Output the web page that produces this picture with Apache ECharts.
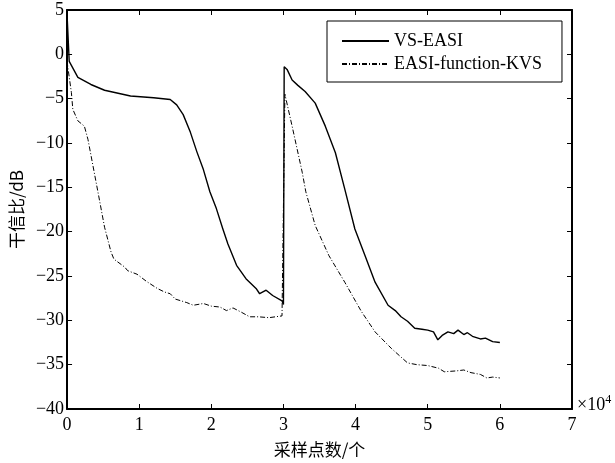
<!DOCTYPE html>
<html>
<head>
<meta charset="utf-8">
<script src="https://cdn.jsdelivr.net/npm/echarts@6/dist/echarts.min.js"></script>
<style>
html,body{margin:0;padding:0;background:#fff;}
#main{width:615px;height:463px;}
</style>
</head>
<body>
<div id="main"></div>
<script>
// 采样点数 与 干信比(dB)
var vsEasiX = [0, 300, 1500, 3300, 5200, 8800, 12000, 14300, 15200, 16100, 17100, 18000, 18900, 19800, 20700, 21600, 22300, 23500, 24800, 26200, 26700, 27600, 28500, 29800, 30000,
	30100, 30500, 31200, 32000, 33000, 34400, 35800, 37200, 38500, 39900, 41300, 42700, 44500, 45500, 46300, 47200, 48200, 49200, 50000, 50800, 51400, 52000, 52800, 53600, 54200, 55000, 55500, 56200, 57300, 58000, 59000, 60000];
var vsEasiY = [4.5, -0.8, -2.6, -3.4, -4.05, -4.7, -4.9, -5.1, -5.7, -6.8, -8.8, -11, -13, -15.5, -17.4, -19.7, -21.4, -23.8, -25.3, -26.4, -27, -26.6, -27.2, -27.8, -28.2,
	-1.4, -1.7, -2.9, -3.5, -4.2, -5.5, -8.1, -11.1, -15.2, -19.7, -22.7, -25.7, -28.3, -28.9, -29.6, -30.1, -30.9, -31.0, -31.1, -31.3, -32.2, -31.7, -31.3, -31.5, -31.1, -31.6, -31.4, -31.8, -32.1, -32.0, -32.4, -32.5];
var kvsX = [0, 100, 600, 800, 1500, 2400, 2900, 3600, 4300, 5200, 6100, 6500, 8000, 8400, 9700, 11000, 12500, 13500, 14300, 15000, 16600, 17500, 18900, 20000, 21200, 22100, 23000, 24200, 25300, 26500, 28000, 29800, 30000,
	30200, 31200, 32600, 33100, 34400, 36300, 38500, 40800, 42700, 45000, 47200, 48500, 50000, 51500, 52300, 54000, 55000, 56000, 57300, 58200, 59000, 60000];
var kvsY = [-0.8, -1.4, -4.3, -6.2, -7.5, -8.1, -9.6, -12.6, -15.6, -19.5, -22.3, -23.1, -24.0, -24.4, -24.8, -25.6, -26.4, -26.8, -27.0, -27.6, -28.0, -28.3, -28.1, -28.4, -28.5, -28.9, -28.6, -29.1, -29.6, -29.6, -29.7, -29.5, -29.5,
	-4.5, -8.1, -13.3, -15.5, -19.3, -22.7, -25.7, -29.0, -31.3, -33.2, -34.8, -35.0, -35.1, -35.4, -35.8, -35.7, -35.6, -35.9, -36.1, -36.5, -36.4, -36.5];
var seriesNames = ['VS-EASI', 'EASI-function-KVS'];

function zipXY(xs, ys) {
	var out = [];
	for (var i = 0; i < xs.length; i++) out.push([xs[i], ys[i]]);
	return out;
}
function minus(v) {
	return String(v).replace('-', '\u2212');
}

var serif = "'Liberation Serif','Times New Roman',serif";
var cjk = "'Noto Sans CJK SC','Liberation Serif',serif";
var axisLine = { show: true, onZero: false, lineStyle: { color: '#000', width: 2 } };
var axisTick = { show: true, inside: true, length: 5, lineStyle: { color: '#000', width: 1 } };

var myChart = echarts.init(document.getElementById('main'));
var option = {
	backgroundColor: '#fff',
	animation: false,
	grid: { left: 62, right: 43, top: 10, bottom: 52 },
	legend: {
		orient: 'vertical',
		left: 327,
		top: 21,
		backgroundColor: '#fff',
		borderColor: '#000',
		borderWidth: 1,
		borderRadius: 0,
		padding: [11, 20, 9, 14],
		itemWidth: 47,
		itemHeight: 10,
		itemGap: 5,
		itemStyle: { opacity: 0 },
		textStyle: { fontFamily: serif, fontSize: 18, color: '#000' },
		data: seriesNames
	},
	xAxis: [{
		type: 'value',
		min: 0, max: 70000, interval: 10000,
		position: 'bottom',
		axisLine: axisLine, axisTick: axisTick,
		splitLine: { show: false },
		axisLabel: { color: '#000', fontFamily: serif, fontSize: 18, margin: 7,
			formatter: function (v) { return String(v / 10000); } },
		name: '采样点数/个',
		nameLocation: 'middle',
		nameGap: 32,
		nameTextStyle: { fontFamily: cjk, fontSize: 17, color: '#000' }
	}, {
		type: 'value',
		min: 0, max: 70000, interval: 10000,
		position: 'top',
		axisLine: axisLine, axisTick: axisTick,
		splitLine: { show: false },
		axisLabel: { show: false }
	}],
	yAxis: [{
		type: 'value',
		min: -40, max: 5, interval: 5,
		position: 'left',
		axisLine: axisLine, axisTick: axisTick,
		splitLine: { show: false },
		axisLabel: { color: '#000', fontFamily: serif, fontSize: 18, margin: 3, formatter: minus },
		name: '干信比/dB',
		nameLocation: 'middle',
		nameGap: 42,
		nameTextStyle: { fontFamily: cjk, fontSize: 17, color: '#000' }
	}, {
		type: 'value',
		min: -40, max: 5, interval: 5,
		position: 'right',
		axisLine: axisLine, axisTick: axisTick,
		splitLine: { show: false },
		axisLabel: { show: false }
	}],
	graphic: [{
		type: 'text',
		left: 577,
		top: 394,
		style: {
			text: '×10{s|4}',
			fontFamily: serif,
			fontSize: 18,
			fill: '#000',
			rich: { s: { fontSize: 12, verticalAlign: 'top', padding: [0, 0, 10, 0], fontFamily: serif } }
		}
	}],
	series: [{
		name: seriesNames[0],
		type: 'line',
		showSymbol: false,
		symbol: 'none',
		data: zipXY(vsEasiX, vsEasiY),
		lineStyle: { color: '#000', width: 1.4, type: 'solid' },
		itemStyle: { color: '#000' }
	}, {
		name: seriesNames[1],
		type: 'line',
		showSymbol: false,
		symbol: 'none',
		data: zipXY(kvsX, kvsY),
		lineStyle: { color: '#000', width: 1, type: [5, 2, 1, 2] },
		itemStyle: { color: '#000' }
	}]
};
myChart.setOption(option);
</script>
</body>
</html>
